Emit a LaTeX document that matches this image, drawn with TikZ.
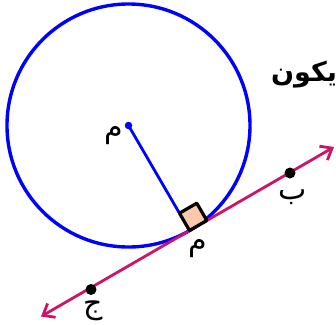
\documentclass[tikz,border=0pt]{standalone}
\usepackage{fontspec}
\newfontfamily\arabicfont[Script=Arabic]{DejaVu Sans}
\TeXXeTstate=1
\usetikzlibrary{arrows.meta,calc}
\definecolor{linecol}{RGB}{204,20,104}
\definecolor{sqfill}{RGB}{250,200,170}
\tikzset{
  circ/.style={draw=blue, line width=3.4pt},
  radius line/.style={draw=blue, line width=2.8pt},
  tangent/.style={draw=linecol, line width=2.8pt, {Straight Barb[length=10pt,width=16pt,line width=2.8pt]}-{Straight Barb[length=10pt,width=16pt,line width=2.8pt]}},
  dot/.style={circle, fill=black, inner sep=0pt, minimum size=11pt},
  bluedot/.style={circle, fill=blue, inner sep=0pt, minimum size=7.5pt},
  lbl/.style={font=\arabicfont\fontsize{30}{34}\selectfont, inner sep=0pt},
  sq/.style={draw=black, fill=sqfill, line width=3.2pt, line join=round},
}
\begin{document}
\begin{tikzpicture}[x=1pt,y=-1pt]
\useasboundingbox (0,0) rectangle (336,324);
\coordinate (O) at (128.5,125.5);
\coordinate (P) at (189.5,230.5);
\coordinate (T1) at (334,147);
\coordinate (T2) at (41,316.5);
% circle
\draw[circ] (O) circle[radius=121.5];
% right angle square
\coordinate (U) at ($(P)!20pt!(O)$);
\coordinate (V) at ($(P)!20pt!(T1)$);
% radius
\draw[radius line] (O) -- (U);
% tangent line
\draw[tangent] (T2) -- (T1);
\draw[sq] (P) -- (U) -- ($(U)+(V)-(P)$) -- (V) -- cycle;
\node[bluedot] (center) at (O) {};
\node[dot] (B) at (290,173) {};
\node[dot] (J) at (91,289.5) {};
% labels
\node[lbl] (mO) at (114,136) {\beginR م\endR};
\node[lbl] (mP) at (198,249) {\beginR م\endR};
\node[lbl] (bL) at (293,197) {\beginR ب\endR};
\node[lbl] (jL) at (93,311) {\beginR ج\endR};
\node[font=\arabicfont\bfseries\fontsize{27}{32}\selectfont, inner sep=0pt] (yk) at (304,75) {\beginR يكون\endR};
\end{tikzpicture}
\end{document}
